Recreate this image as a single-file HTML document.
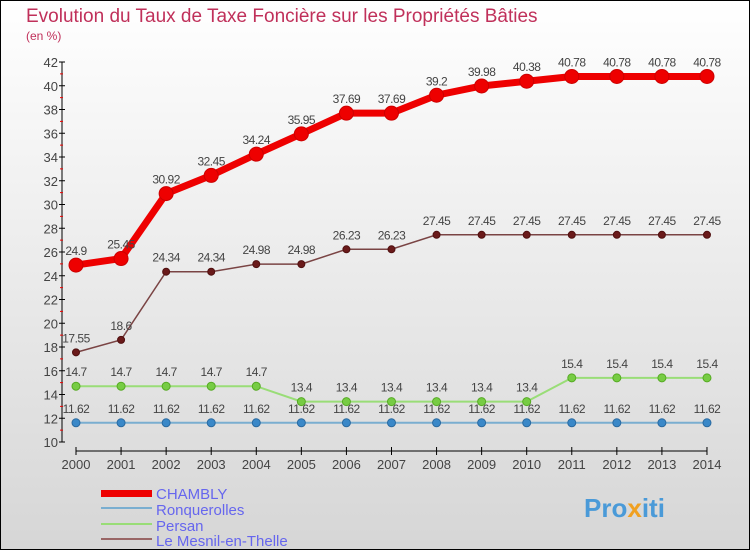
<!DOCTYPE html>
<html><head><meta charset="utf-8"><style>
body{margin:0;}
#wrap{width:748px;height:548px;border:1px solid #000;background:linear-gradient(#fff,#d6d6d6);position:relative;overflow:hidden;font-family:"Liberation Sans",sans-serif;}
</style></head><body>
<div id="wrap">
<svg id="svg" width="748" height="548" xmlns="http://www.w3.org/2000/svg">
<text x="25" y="21" font-size="19" fill="#c0305a">Evolution du Taux de Taxe Foncière sur les Propriétés Bâties</text>
<text x="25" y="39" font-size="12" fill="#c0305a">(en %)</text>
<g id="axes"></g><g id="series"></g>
<g>
<rect x="100" y="489" width="51" height="7" fill="#e00"/>
<text x="155" y="498" font-size="15" fill="#6666ee">CHAMBLY</text>
<line x1="100" y1="507" x2="151" y2="507" stroke="#7aaed0" stroke-width="2"/>
<text x="155" y="514" font-size="15" fill="#6666ee">Ronquerolles</text>
<line x1="100" y1="523" x2="151" y2="523" stroke="#99dd77" stroke-width="2"/>
<text x="155" y="530" font-size="15" fill="#6666ee">Persan</text>
<line x1="100" y1="538" x2="151" y2="538" stroke="#996666" stroke-width="2"/>
<text x="155" y="545" font-size="15" fill="#6666ee">Le Mesnil-en-Thelle</text>
</g>
<text x="583" y="516" font-size="26" font-weight="bold" fill="#4a9ad8">Pro<tspan fill="#f0a020">x</tspan>iti</text>
</svg></div>
<script>
const years=[2000,2001,2002,2003,2004,2005,2006,2007,2008,2009,2010,2011,2012,2013,2014];
const chambly=[24.9,25.45,30.92,32.45,34.24,35.95,37.69,37.69,39.2,39.98,40.38,40.78,40.78,40.78,40.78];
const ronquerolles=[11.62,11.62,11.62,11.62,11.62,11.62,11.62,11.62,11.62,11.62,11.62,11.62,11.62,11.62,11.62];
const persan=[14.7,14.7,14.7,14.7,14.7,13.4,13.4,13.4,13.4,13.4,13.4,15.4,15.4,15.4,15.4];
const mesnil=[17.55,18.6,24.34,24.34,24.98,24.98,26.23,26.23,27.45,27.45,27.45,27.45,27.45,27.45,27.45];
const yTicks=[10,12,14,16,18,20,22,24,26,28,30,32,34,36,38,40,42];
const NS="http://www.w3.org/2000/svg";
const X=i=>75+i*45.07;
const Y=v=>441-(v-10)*11.875;
function mk(t,a,p){const e=document.createElementNS(NS,t);for(const k in a)e.setAttribute(k,a[k]);p.appendChild(e);return e;}
const ax=document.getElementById('axes');
const yl=mk('line',{x1:61,y1:Y(42),x2:61,y2:Y(10),stroke:'#000'},ax);


yTicks.forEach(v=>{
 mk('line',{x1:58,y1:Y(v),x2:64,y2:Y(v),stroke:'#000'},ax);
 if(v<42) mk('line',{x1:59,y1:Y(v+1),x2:62,y2:Y(v+1),stroke:'#e00'},ax);
 const t=mk('text',{x:57,y:Y(v)+5,'font-size':13,fill:'#444','text-anchor':'end'},ax);
 t.textContent=v;
 
 
});
const xl=mk('line',{x1:X(0),y1:450,x2:X(14),y2:450,stroke:'#000'},ax);


years.forEach((y,i)=>{
 mk('line',{x1:X(i),y1:446,x2:X(i),y2:454,stroke:'#000'},ax);
 const t=mk('text',{x:X(i),y:468,'font-size':13,fill:'#444','text-anchor':'middle'},ax);
 t.textContent=y;
 
 
});
const sg=document.getElementById('series');
function draw(vals,name,color,w,r,dot,stroke){
 const g=mk('g',{},sg);
 
 
 mk('polyline',{points:vals.map((v,i)=>X(i)+','+Y(v)).join(' '),fill:'none',stroke:color,'stroke-width':w},g);
 vals.forEach((v,i)=>{
  const c=mk('circle',{cx:X(i),cy:Y(v),r:r,fill:dot,stroke:stroke,'stroke-width':1},g);
  
  
  const t=mk('text',{x:X(i),y:Y(v)-10,'font-size':12,fill:'#444','text-anchor':'middle','letter-spacing':'-0.5'},g);
  t.textContent=v;
  
  
 });
}
draw(ronquerolles,'ronquerolles','#7aaed0',2,4,'#3a88c8','#2a6aa0');
draw(persan,'persan','#99dd77',2,4,'#77cc44','#55aa22');
draw(mesnil,'le-mesnil','#7a4444',1.5,3.5,'#6a1a1a','#501010');
draw(chambly,'chambly','#ee0000',7,7,'#ee0000','#cc0000');
</script>
</body></html>
